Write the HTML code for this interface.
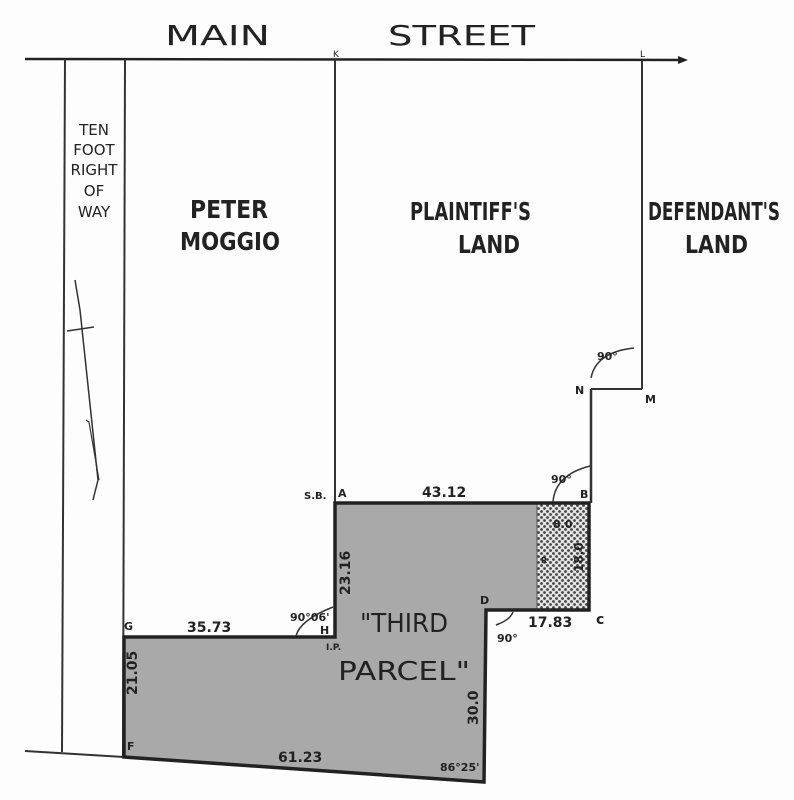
<!DOCTYPE html>
<html><head><meta charset="utf-8"><style>
html,body{margin:0;padding:0;background:#fdfdfd;}
svg{display:block;}
text{font-family:"DejaVu Sans","Liberation Sans",sans-serif;fill:#222;}
</style></head><body>
<svg width="794" height="800" viewBox="0 0 794 800" xmlns="http://www.w3.org/2000/svg">
<defs>
<pattern id="chk" width="6" height="6" patternUnits="userSpaceOnUse">
<rect width="6" height="6" fill="#e4e4e4"/>
<circle cx="1.5" cy="1.5" r="1.4" fill="#444"/><circle cx="4.5" cy="4.5" r="1.4" fill="#444"/>
</pattern>
</defs>
<polygon points="335,503 589,503 589,610 486,610 484,782 124,757 124,637 335,637" fill="#a9a9a9"/>
<rect x="537" y="503" width="52" height="107" fill="url(#chk)"/>
<line x1="537" y1="503" x2="537" y2="610" stroke="#555" stroke-width="1"/>
<line x1="25" y1="59" x2="680" y2="60" stroke="#222" stroke-width="2.5"/>
<polygon points="678,56 688,60 678,64" fill="#222"/>
<line x1="65" y1="59" x2="62" y2="752" stroke="#333" stroke-width="2"/>
<line x1="125" y1="59" x2="123" y2="757" stroke="#333" stroke-width="2"/>
<line x1="25" y1="751" x2="124" y2="757" stroke="#333" stroke-width="2"/>
<line x1="335" y1="59" x2="335" y2="503" stroke="#333" stroke-width="2"/>
<line x1="642" y1="60" x2="642" y2="389" stroke="#333" stroke-width="2"/>
<line x1="591" y1="389" x2="642" y2="389" stroke="#333" stroke-width="2"/>
<line x1="591" y1="389" x2="591" y2="503" stroke="#333" stroke-width="2.5"/>
<polygon points="335,503 589,503 589,610 486,610 484,782 124,757 124,637 335,637" fill="none" stroke="#222" stroke-width="3.5"/>
<polyline points="75,280 80,310 98,480 93,500" fill="none" stroke="#333" stroke-width="1.5"/>
<polyline points="86,420 89,422 99,480" fill="none" stroke="#333" stroke-width="1.2"/>
<line x1="67" y1="331" x2="94" y2="327" stroke="#333" stroke-width="1.5"/>
<path d="M591,378 Q596,352 634,348" fill="none" stroke="#333" stroke-width="1.5"/>
<path d="M553,502 Q555,475 590,466" fill="none" stroke="#333" stroke-width="1.5"/>
<path d="M496,625 Q510,620 513,612" fill="none" stroke="#333" stroke-width="1.5"/>
<path d="M296,636 Q300,620 333,607" fill="none" stroke="#333" stroke-width="1.5"/>
<text x="165" y="45" font-size="28" textLength="105" lengthAdjust="spacingAndGlyphs" font-weight="500">MAIN</text>
<text x="388" y="45" font-size="28" textLength="147" lengthAdjust="spacingAndGlyphs">STREET</text>
<text x="333" y="57" font-size="9">K</text>
<text x="640" y="57" font-size="9">L</text>
<g font-size="15" text-anchor="middle">
<text x="94" y="135">TEN</text><text x="94" y="155">FOOT</text><text x="94" y="175">RIGHT</text><text x="94" y="196">OF</text><text x="94" y="217">WAY</text>
</g>
<g font-size="25" font-weight="bold" lengthAdjust="spacingAndGlyphs">
<text x="190" y="218" textLength="78" lengthAdjust="spacingAndGlyphs">PETER</text>
<text x="180" y="250" textLength="100" lengthAdjust="spacingAndGlyphs">MOGGIO</text>
<text x="410" y="220" textLength="121" lengthAdjust="spacingAndGlyphs">PLAINTIFF'S</text>
<text x="458" y="253" textLength="62" lengthAdjust="spacingAndGlyphs">LAND</text>
<text x="648" y="220" textLength="132" lengthAdjust="spacingAndGlyphs">DEFENDANT'S</text>
<text x="685" y="253" textLength="63" lengthAdjust="spacingAndGlyphs">LAND</text>
</g>
<g font-size="11" font-weight="bold">
<text x="597" y="360">90°</text>
<text x="575" y="394">N</text>
<text x="645" y="403">M</text>
<text x="551" y="483">90°</text>
<text x="580" y="498">B</text>
<text x="304" y="499" font-size="10">S.B.</text>
<text x="338" y="497">A</text>
<text x="422" y="497" font-size="14">43.12</text>
<text x="124" y="630">G</text>
<text x="187" y="632" font-size="14">35.73</text>
<text x="290" y="621">90°06'</text>
<text x="320" y="634">H</text>
<text x="326" y="650" font-size="9">I.P.</text>
<text x="480" y="604">D</text>
<text x="497" y="642">90°</text>
<text x="528" y="627" font-size="14">17.83</text>
<text x="596" y="624" font-size="14">c</text>
<text x="553" y="528">8.0</text>
<text x="541" y="563" font-size="8">R</text>
<text x="440" y="771">86°25'</text>
<text x="127" y="750">F</text>
<text x="278" y="762" font-size="14">61.23</text>
</g>
<g font-size="14" font-weight="bold">
<text transform="translate(350,595) rotate(-90)">23.16</text>
<text transform="translate(137,695) rotate(-90)">21.05</text>
<text transform="translate(478,725) rotate(-90)">30.0</text>
<text transform="translate(583,572) rotate(-90)" font-size="12">18.0</text>
</g>
<text x="360" y="632" font-size="26" textLength="88" lengthAdjust="spacingAndGlyphs">"THIRD</text>
<text x="338" y="680" font-size="26" textLength="132" lengthAdjust="spacingAndGlyphs">PARCEL"</text>
</svg>
</body></html>
